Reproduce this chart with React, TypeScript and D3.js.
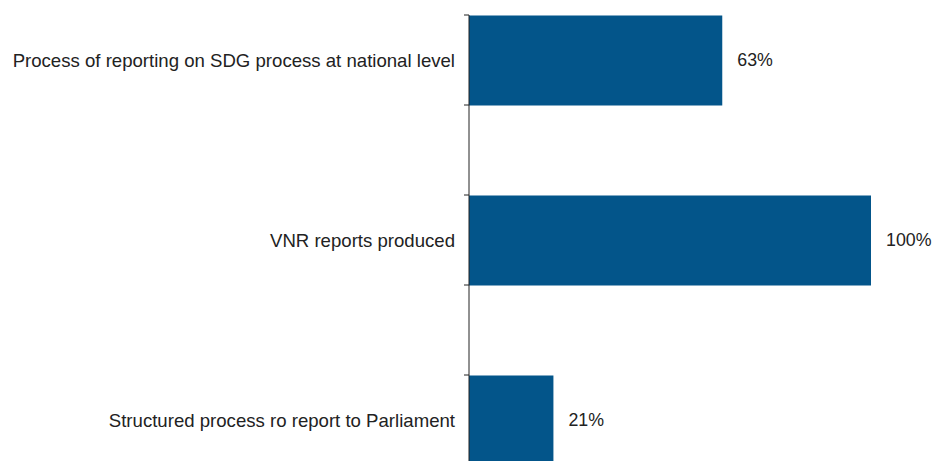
import React from "react";
import * as d3 from "d3";

const categories = [
  "Process of reporting on SDG process at national level",
  "VNR reports produced",
  "Structured process ro report to Parliament",
];
const values = [63, 100, 21];
const valueLabels = ["63%", "100%", "21%"];

const W = 933;
const H = 461;

export default function App() {
  const x = d3.scaleLinear().domain([0, 100]).range([469, 871]);
  const y = d3
    .scaleBand<string>()
    .domain(categories)
    .range([-30, 510])
    .paddingInner(0.5)
    .paddingOuter(0.25);
  const bw = y.bandwidth();
  const font = "'Liberation Sans', Arial, sans-serif";
  const ticks: number[] = [];
  categories.forEach((c) => {
    ticks.push(y(c)!, y(c)! + bw);
  });
  return (
    <svg
      width={W}
      height={H}
      style={{ position: "fixed", left: 0, top: 0, display: "block", background: "#fff" }}
    >
      {categories.map((c, i) => (
        <g key={c}>
          <rect
            x={x(0)}
            y={y(c)! + 0.5}
            width={x(values[i]) - x(0)}
            height={bw}
            fill="#03558A"
          />
          <text
            x={455}
            y={y(c)! + bw / 2}
            textAnchor="end"
            dominantBaseline="central"
            fontFamily={font}
            fontSize={18.6}
            fill="#222"
          >
            {c}
          </text>
          <text
            x={x(values[i]) + 15}
            y={y(c)! + bw / 2}
            dominantBaseline="central"
            fontFamily={font}
            fontSize={17.8}
            fill="#222"
          >
            {valueLabels[i]}
          </text>
        </g>
      ))}
      <line x1={469} x2={469} y1={15} y2={H} stroke="#222" strokeWidth={1} />
      {ticks.map((t, i) => (
        <line key={i} x1={464} x2={469} y1={t} y2={t} stroke="#222" strokeWidth={1} />
      ))}
    </svg>
  );
}
